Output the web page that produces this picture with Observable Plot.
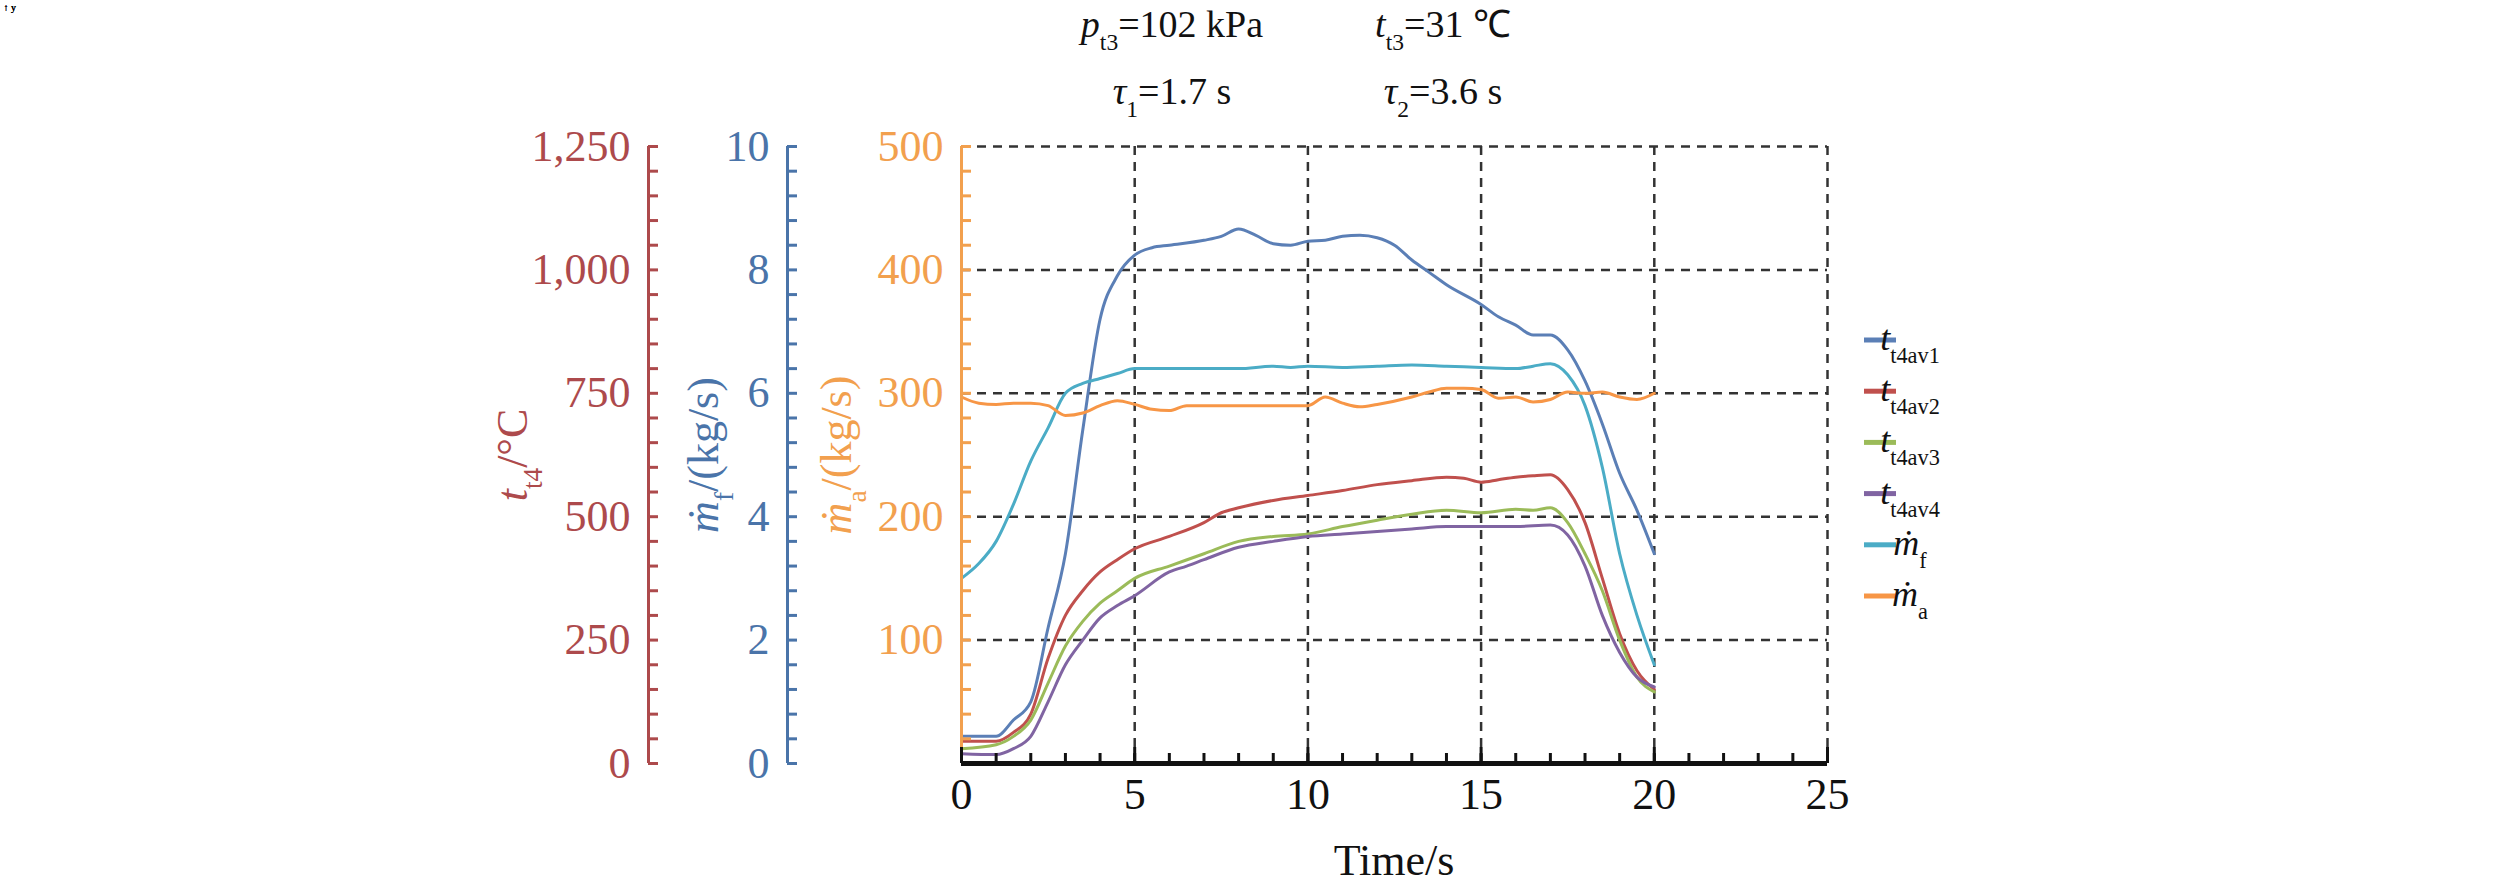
<!DOCTYPE html>
<html><head><meta charset="utf-8">
<script src="https://cdn.jsdelivr.net/npm/d3@7"></script>
<script src="https://cdn.jsdelivr.net/npm/@observablehq/plot@0.6"></script>
<style>body{margin:0;background:#fff}svg{font-family:"Liberation Serif",serif}</style>
</head><body><div id="chart"></div>
<script>
// t4 temperatures (°C)
const t1Time = [0,1,1.5,2,2.5,3,3.5,4,4.5,5,5.5,6,7,7.5,8,8.5,9,9.5,10,10.5,11,11.5,12,12.5,13,13.5,14,15,15.5,16,16.5,17,17.5,18,18.5,19,19.5,20];
const t4av1 = [55,55,88,125,275,425,675,900,988,1030,1045,1050,1060,1068,1083,1070,1053,1050,1058,1060,1068,1070,1065,1050,1020,995,970,930,905,888,868,868,838,775,688,588,513,425];
const t2Time = [0,0.5,1,1.5,2,2.5,3,3.5,4,4.5,5,6,7,7.5,8,9,10,11,12,13,14,14.5,15,15.5,16,16.5,17,17.5,18,18.5,19,19.5,20];
const t4av2 = [45,45,45,63,100,213,300,350,388,413,435,460,488,508,518,533,543,553,565,573,580,578,570,575,580,583,585,555,488,375,263,188,150];
const t3Time = [0,1,1.5,2,2.5,3,3.5,4,4.5,5,6,7,8,9,10,11,12,13,14,15,16,16.5,17,17.5,18,18.5,19,19.5,20];
const t4av3 = [30,38,55,88,163,238,288,325,350,375,400,425,450,460,465,480,493,505,513,508,515,513,518,488,425,350,250,175,145];
const t4Time = [0,1,1.5,2,2.5,3,3.5,4,4.5,5,6,6.5,7,8,9,10,11,12,13,14,15,16,17,17.5,18,18.5,19,19.5,20];
const t4av4 = [20,18,30,55,125,200,250,295,320,340,388,400,413,438,450,460,465,470,475,480,480,480,483,463,400,300,225,175,155];
// fuel flow (kg/s)
const mfTime = [0,0.5,1,1.5,2,2.5,3,3.5,4,4.5,5,6,7,8,9,9.5,10,11,12,13,14,15,16,16.5,17,17.5,18,18.5,19,19.5,20];
const mf = [3.0,3.24,3.6,4.2,4.9,5.44,6.0,6.16,6.24,6.32,6.4,6.4,6.4,6.4,6.44,6.42,6.44,6.42,6.44,6.46,6.44,6.42,6.4,6.44,6.48,6.3,5.8,4.8,3.4,2.4,1.6];
// air flow (kg/s)
const maTime = [0,0.5,1,1.5,2,2.5,3,3.5,4,4.5,5,5.5,6,6.5,7,8,9,9.5,10,10.5,11,11.5,12,13,13.5,14,14.5,15,15.5,16,16.5,17,17.5,18,18.5,19,19.5,20];
const ma = [297,292,291,292,292,290,282,284,290,294,291,287,286,290,290,290,290,290,290,297,292,289,291,297,301,304,304,303,296,297,293,295,301,300,301,297,295,300];

const xTicks = [0,5,10,15,20,25];
const xMinor = d3.range(0,26,1);
const yTicks = [0,100,200,300,400,500];     // air flow axis (primary)
const yMinor = d3.range(0,501,20);
const tempPerUnit = 2.5, fuelPerUnit = 1/50;  // secondary axis ratios to primary

const colors = {t1:"#5b7fb6",t2:"#c0504d",t3:"#9bbb59",t4:"#8064a2",mf:"#4bacc6",ma:"#f79646"};
const axRed="#ad4a4c", axBlue="#4a74a9", axOrange="#f2a04e";

const mk = (time, vals, conv, key) => time.map((t,i)=>({t, y: vals[i]*conv, key}));
const series = [
  mk(t1Time,t4av1,1/tempPerUnit,"t1"), mk(t2Time,t4av2,1/tempPerUnit,"t2"),
  mk(t3Time,t4av3,1/tempPerUnit,"t3"), mk(t4Time,t4av4,1/tempPerUnit,"t4"),
  mk(mfTime,mf,1/fuelPerUnit,"mf"), mk(maTime,ma,1,"ma")
];

const F = 44;
function sideAxis(color, dx, fmt, showZero=true){
  return [
    Plot.ruleX([0],{y1:0,y2:500,dx,stroke:color,strokeWidth:3}),
    Plot.axisY(yMinor,{tickSize:-10,dx,stroke:color,strokeWidth:3,tickFormat:()=>""}),
    Plot.axisY(showZero?yTicks:yTicks.slice(1),{tickSize:0,tickPadding:18,dx,fill:color,fontSize:F,tickFormat:fmt,label:null})
  ];
}

const plot = Plot.plot({
  width:2520,height:891,marginLeft:961,marginRight:693,marginTop:146,marginBottom:128,
  style:{fontFamily:"Liberation Serif",background:"white"},
  x:{domain:[0,25]}, y:{domain:[0,500]},
  marks:[
    Plot.gridX(xTicks.slice(1),{stroke:"#333",strokeOpacity:1,strokeDasharray:"9,7",strokeWidth:2.5}),
    Plot.gridY(yTicks.slice(1),{stroke:"#333",strokeOpacity:1,strokeDasharray:"9,7",strokeWidth:2.5}),
    ...series.map(s=>Plot.line(s,{x:"t",y:"y",stroke:colors[s[0].key],strokeWidth:3,curve:"monotone-x"})),
    ...sideAxis(axOrange,0,d=>d,false),
    ...sideAxis(axBlue,-174,d=>d*fuelPerUnit),
    ...sideAxis(axRed,-313,d=>d*tempPerUnit),
    Plot.ruleY([0],{stroke:"#111",strokeWidth:5}),
    Plot.axisX(xMinor,{tickSize:-10,stroke:"#111",strokeWidth:3,tickFormat:()=>"",label:null}),
    Plot.axisX(xTicks,{tickSize:-16,stroke:"#111",strokeWidth:3,tickPadding:30,fontSize:F,fill:"#111",label:null})
  ]
});
document.getElementById("chart").appendChild(plot);

const svg = d3.select(plot);
const fam = "Liberation Serif";
function rich(g, parts, size){
  const t = g.append("text").attr("font-family",fam).attr("font-size",size);
  parts.forEach(p=>{
    const s = t.append("tspan").text(p.s);
    if(p.i) s.attr("font-style","italic");
    if(p.sub) s.attr("baseline-shift","sub").attr("font-size",size*0.62);
  });
  return t;
}
// header
const h = svg.append("g").attr("fill","#111");
rich(h,[{s:"p",i:1},{s:"t3",sub:1},{s:"=102 kPa"}],38).attr("x",1172).attr("y",37);
rich(h,[{s:"t",i:1},{s:"t3",sub:1},{s:"=31 ℃"}],38).attr("x",1443).attr("y",37);
rich(h,[{s:"τ",i:1},{s:"1",sub:1},{s:"=1.7 s"}],38).attr("x",1172).attr("y",104);
rich(h,[{s:"τ",i:1},{s:"2",sub:1},{s:"=3.6 s"}],38).attr("x",1443).attr("y",104);
// axis titles
function ytitle(x,color,parts){
  const g = svg.append("g").attr("transform",`translate(${x},455) rotate(-90)`).attr("fill",color);
  rich(g,parts,44).attr("text-anchor","middle").attr("dy","0.35em");
}
ytitle(512,axRed,[{s:"t",i:1},{s:"t4",sub:1},{s:"/°C"}]);
ytitle(703,axBlue,[{s:"ṁ",i:1},{s:"f",sub:1},{s:"/(kg/s)"}]);
ytitle(836,axOrange,[{s:"ṁ",i:1},{s:"a",sub:1},{s:"/(kg/s)"}]);
// x title
svg.append("text").attr("x",1394).attr("y",875).attr("text-anchor","middle")
  .attr("font-family",fam).attr("font-size",44).attr("fill","#111").text("Time/s");
// legend
const legend = [["t1",[{s:"t",i:1},{s:"t4av1",sub:1}]],["t2",[{s:"t",i:1},{s:"t4av2",sub:1}]],
  ["t3",[{s:"t",i:1},{s:"t4av3",sub:1}]],["t4",[{s:"t",i:1},{s:"t4av4",sub:1}]],
  ["mf",[{s:"ṁ",i:1},{s:"f",sub:1}]],["ma",[{s:"ṁ",i:1},{s:"a",sub:1}]]];
legend.forEach(([k,parts],i)=>{
  const y = 340 + i*51.2;
  svg.append("line").attr("x1",1864).attr("x2",1896).attr("y1",y).attr("y2",y)
    .attr("stroke",colors[k]).attr("stroke-width",5);
  rich(svg.append("g").attr("fill","#111"),parts,36).attr("x",1910).attr("y",y+10);
});
</script></body></html>
